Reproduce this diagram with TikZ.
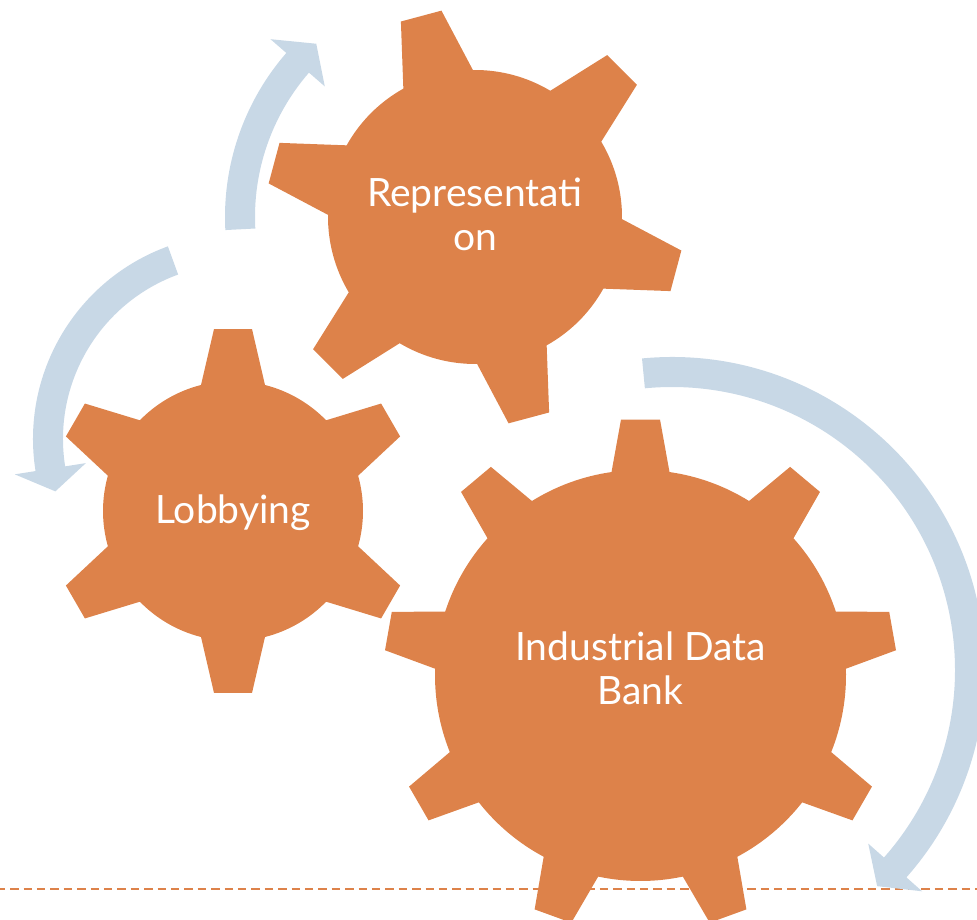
\documentclass[tikz,border=0pt]{standalone}
\usepackage{fontspec}
\setmainfont{Lato}
\usetikzlibrary{calc}

\definecolor{gearorange}{RGB}{221,130,74}
\definecolor{arrowblue}{RGB}{200,216,230}

% gear outline: centre, teeth, first tooth angle, body radius, tip radius, half width at body, half width at tip
\newcommand{\gearbody}[7]{%
  \pgfmathsetmacro{\gStep}{360/#2}
  \pgfmathsetmacro{\gBase}{asin(#6/#4)}
  \pgfmathsetmacro{\gTip}{atan(#7/#5)}
  \pgfmathsetmacro{\gRho}{#5/cos(\gTip)}
  \pgfmathtruncatemacro{\gLast}{#2-1}
  \fill[gearfill, shift={(#1)}] ({#3-\gBase}:#4)
    \foreach \k [evaluate=\k as \t using #3+\k*\gStep] in {0,...,\gLast} {
      -- ({\t-\gTip}:\gRho) -- ({\t+\gTip}:\gRho) -- ({\t+\gBase}:#4)
      arc[start angle=\t+\gBase, delta angle=\gStep-2*\gBase, radius=#4]
    } -- cycle;
}

% curved arrow: centre, middle radius, start angle, end angle, tip angle
\newcommand{\turnarrow}[5]{%
  \fill[arrowband, shift={(#1)}] ({#3}:{#2+15}) arc[start angle=#3, end angle=#4, radius=#2+15]
    -- ({#4}:{#2+36}) -- ({#5}:{#2}) -- ({#4}:{#2-36}) -- ({#4}:{#2-15})
    arc[start angle=#4, end angle=#3, radius=#2-15] -- cycle;
}

\begin{document}
\begin{tikzpicture}[
        x=0.5pt, y=0.5pt,
        gearfill/.style={fill=gearorange},
        arrowband/.style={fill=arrowblue},
        gearlabel/.style={text=white, align=center, inner sep=0pt,
                font=\fontsize{19.5}{22}\selectfont}]

        % FRAME
        \useasboundingbox (0,0) rectangle (977,919);

        % CENTRES
        \coordinate (repC) at (475,702);
        \coordinate (lobC) at (233,408);
        \coordinate (bankC) at (640.5,243.5);
        \coordinate (lobArrowC) at (238,480);
        \coordinate (bankArrowC) at (672,249);

        % BASE LINE
        \coordinate (lineL) at (0,30);
        \coordinate (lineR) at (977,30);
        \draw[gearorange, line width=1pt, dash pattern=on 4.2pt off 2.5pt, dash phase=1.65pt] (lineL) -- (lineR);

        % ARROWS
        \turnarrow{repC}{235}{183}{139}{132.5}
        \turnarrow{lobArrowC}{190}{110}{189}{196}
        \turnarrow{bankArrowC}{298}{95.5}{-41.5}{-46.5}

        % GEARS
        \gearbody{repC}{6}{105}{147}{208}{36}{21}
        \gearbody{lobC}{6}{90}{130}{182}{32}{19}
        \gearbody{bankC}{9}{90}{205.5}{256}{29}{19.5}

        % LABELS
        \node[gearlabel] (repLabel) at ($(repC)+(0,2.7)$) {Representati\\on};
        \node[gearlabel] (lobLabel) at ($(lobC)+(0,-2)$) {Lobbying};
        \node[gearlabel] (bankLabel) at ($(bankC)+(0,7.6)$) {Industrial Data\\Bank};
\end{tikzpicture}
\end{document}
